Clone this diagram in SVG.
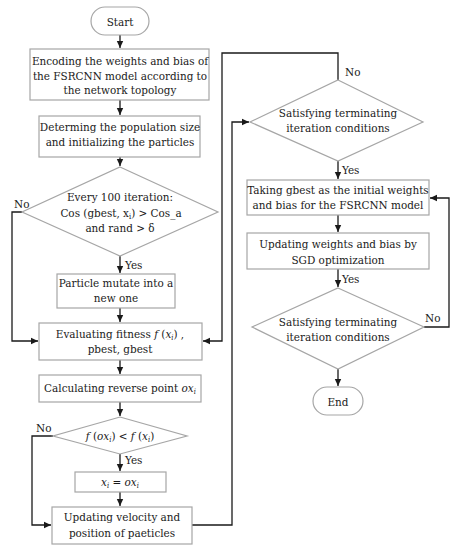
<svg xmlns="http://www.w3.org/2000/svg" width="458" height="550" viewBox="0 0 458 550">
<defs>
<marker id="ah" markerWidth="8" markerHeight="8" refX="7" refY="4" orient="auto" markerUnits="userSpaceOnUse">
<path d="M0,0.8 L7,4 L0,7.2 Z" fill="#1a1a1a"/>
</marker>
</defs>
<style>
text{font-family:"DejaVu Serif Condensed","DejaVu Serif",serif;font-stretch:condensed}
.n{fill:#fff;stroke:#a6a6a6;stroke-width:1.2}
.t{font-size:11.6px;fill:#1a1a1a;text-anchor:middle}
.l{font-size:11.6px;fill:#1a1a1a}
.i{font-style:italic}
.s{font-size:7.5px;baseline-shift:-2px}
.c{fill:none;stroke:#1a1a1a;stroke-width:1.3;marker-end:url(#ah)}
</style>
<rect width="458" height="550" fill="#fff"/>
<g id="connectors">
<path class="c" d="M120,35 V48"/>
<path class="c" d="M120,100 V115"/>
<path class="c" d="M120,157 V166"/>
<path class="c" d="M120,256 V273"/>
<path class="c" d="M120,308 V322"/>
<path class="c" d="M22,212 H12 V341 H38"/>
<path class="c" d="M338,80 V53 H222 V341 H203"/>
<path class="c" d="M120,360 V374"/>
<path class="c" d="M120,402 V416"/>
<path class="c" d="M120,454 V471"/>
<path class="c" d="M120,492 V506"/>
<path class="c" d="M53,436 H32 V525 H51"/>
<path class="c" d="M192,525 H232 V122 H249"/>
<path class="c" d="M338,161 V179"/>
<path class="c" d="M338,215 V232"/>
<path class="c" d="M338,269 V287"/>
<path class="c" d="M424,327 H449 V198 H430"/>
<path class="c" d="M338,369 V386"/>
</g>
<g id="start"><rect class="n" x="91" y="7" width="58" height="28" rx="14"/><text class="t" x="120" y="25.5">Start</text></g>
<g id="encode"><rect class="n" x="30" y="49" width="179" height="51"/>
<text class="t" x="120" y="65">Encoding the weights and bias of</text>
<text class="t" x="120" y="80">the FSRCNN model according to</text>
<text class="t" x="120" y="94">the network topology</text></g>
<g id="init"><rect class="n" x="39" y="116" width="161" height="41"/>
<text class="t" x="120" y="131">Determing the population size</text>
<text class="t" x="120" y="146">and initializing the particles</text></g>
<g id="check100"><polygon class="n" points="120,167 218,212 120,256 22,212"/>
<text class="t" x="120" y="201">Every 100 iteration:</text>
<text class="t" x="121" y="216.5">Cos (gbest, x<tspan class="s">i</tspan>) &gt; Cos_a</text>
<text class="t" x="120" y="231.5">and rand &gt; δ</text></g>
<text class="l" x="14" y="208">No</text>
<text class="l" x="125" y="269">Yes</text>
<g id="mutate"><rect class="n" x="57" y="274" width="118" height="34"/>
<text class="t" x="116" y="287">Particle mutate into a</text>
<text class="t" x="116" y="302">new one</text></g>
<g id="evaluate"><rect class="n" x="39" y="323" width="163" height="37"/>
<text class="t" x="120" y="338">Evaluating fitness <tspan class="i">f</tspan> (<tspan class="i">x<tspan class="s">i</tspan></tspan>) ,</text>
<text class="t" x="120" y="353">pbest, gbest</text></g>
<g id="reverse"><rect class="n" x="39" y="375" width="162" height="27"/>
<text class="t" x="120" y="392">Calculating reverse point  <tspan class="i">ox<tspan class="s">i</tspan></tspan></text></g>
<g id="compare"><polygon class="n" points="120,417 187,436 120,454 53,436"/>
<text class="t" x="120" y="440"><tspan class="i">f</tspan> (<tspan class="i">ox<tspan class="s">i</tspan></tspan>) &lt; <tspan class="i">f</tspan> (<tspan class="i">x<tspan class="s">i</tspan></tspan>)</text></g>
<text class="l" x="36" y="432">No</text>
<text class="l" x="125" y="464">Yes</text>
<g id="assign"><rect class="n" x="75" y="472" width="91" height="20"/>
<text class="t" x="120" y="486"><tspan class="i">x<tspan class="s">i</tspan></tspan> = <tspan class="i">ox<tspan class="s">i</tspan></tspan></text></g>
<g id="update"><rect class="n" x="52" y="507" width="140" height="37"/>
<text class="t" x="122" y="521">Updating velocity and</text>
<text class="t" x="122" y="537">position of paeticles</text></g>
<g id="term1"><polygon class="n" points="338,80 423,122 338,161 250,122"/>
<text class="t" x="338" y="117">Satisfying terminating</text>
<text class="t" x="338" y="132">iteration conditions</text></g>
<text class="l" x="345" y="76">No</text>
<text class="l" x="342" y="174">Yes</text>
<g id="takegbest"><rect class="n" x="247" y="180" width="182" height="35"/>
<text class="t" x="338" y="194">Taking gbest as the initial weights</text>
<text class="t" x="338" y="209">and bias for the FSRCNN model</text></g>
<g id="sgd"><rect class="n" x="247" y="233" width="182" height="36"/>
<text class="t" x="338" y="248">Updating  weights and bias by</text>
<text class="t" x="338" y="264">SGD optimization</text></g>
<text class="l" x="342" y="283">Yes</text>
<g id="term2"><polygon class="n" points="338,288 424,327 338,369 252,327"/>
<text class="t" x="338" y="326">Satisfying terminating</text>
<text class="t" x="338" y="341">iteration conditions</text></g>
<text class="l" x="425" y="322">No</text>
<g id="end"><rect class="n" x="313" y="387" width="50" height="28" rx="14"/><text class="t" x="338" y="405.5">End</text></g>
</svg>
